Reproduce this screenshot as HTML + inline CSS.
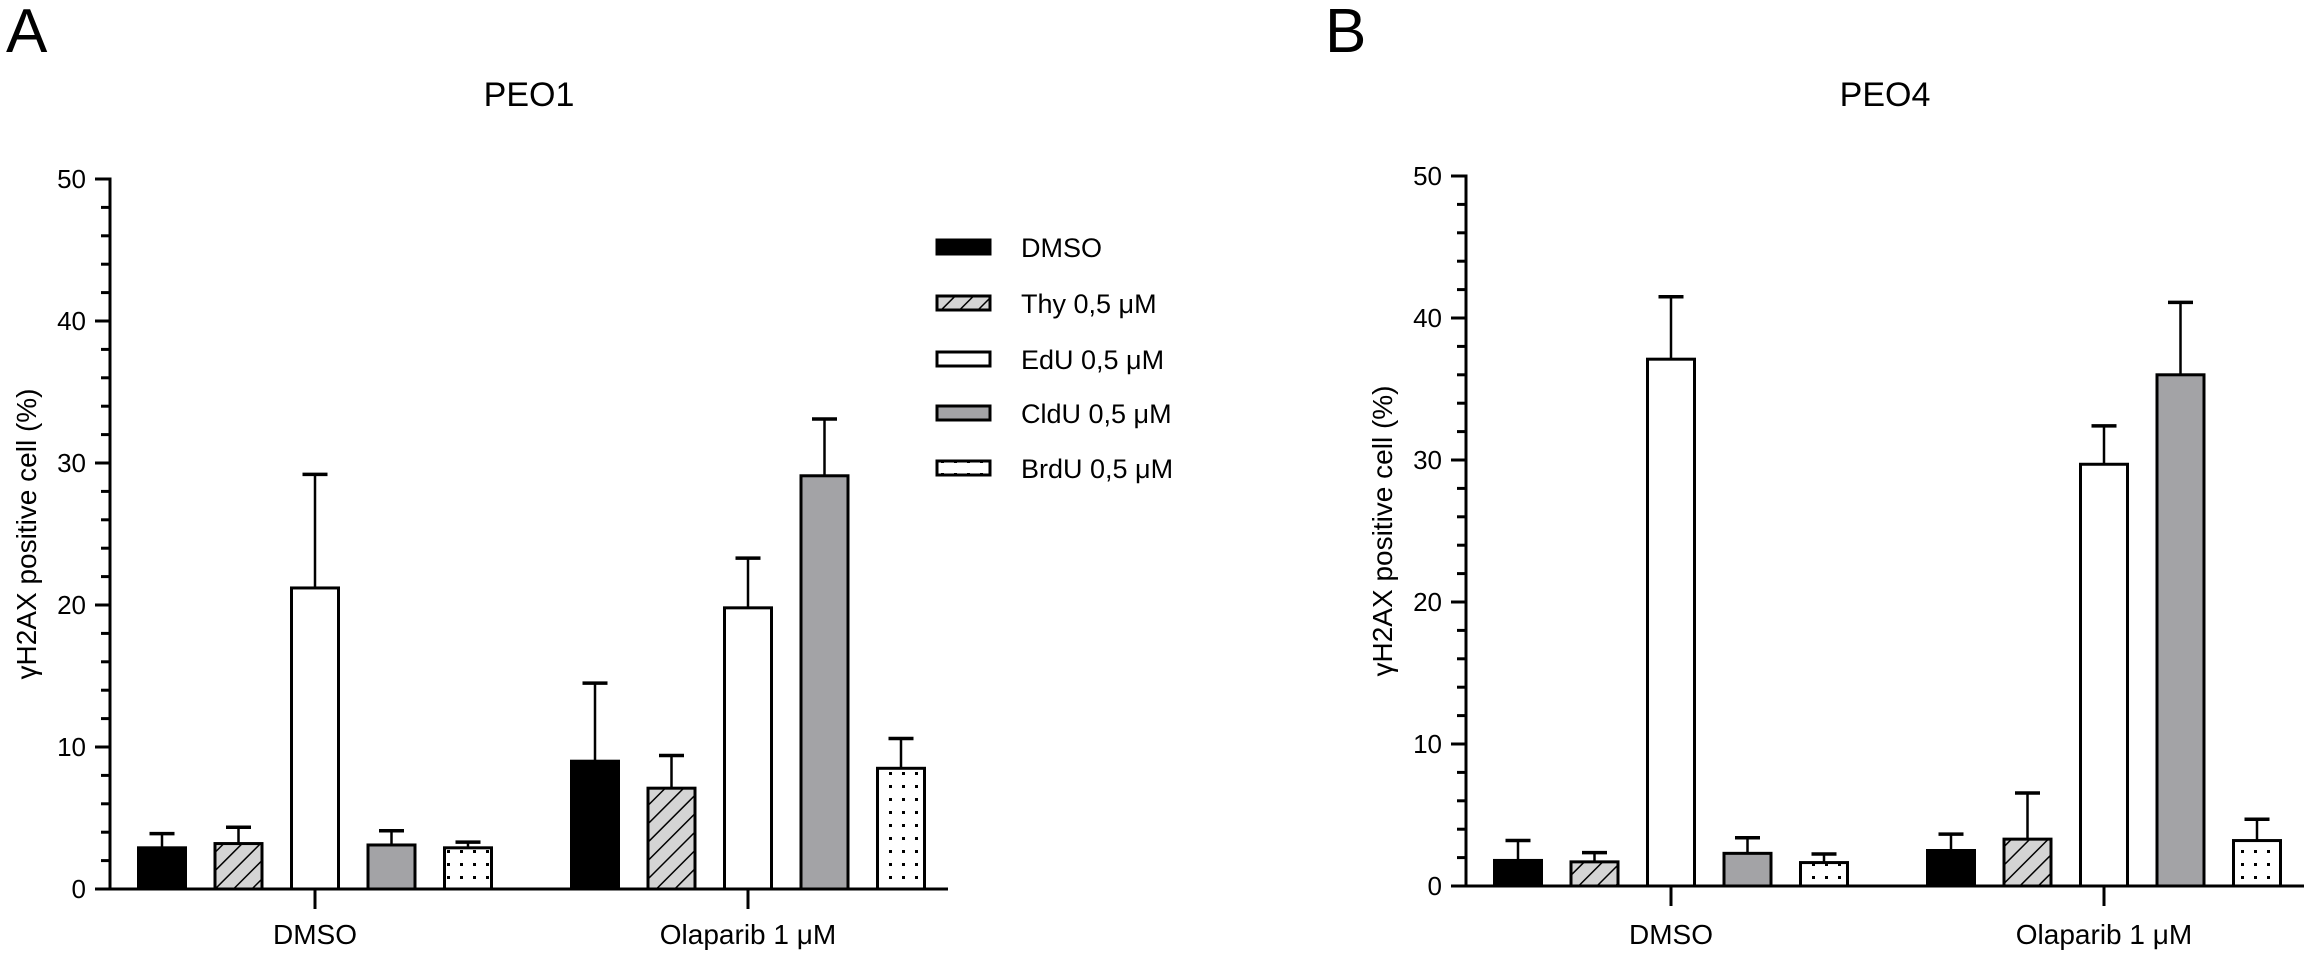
<!DOCTYPE html>
<html><head><meta charset="utf-8"><style>
html,body{margin:0;padding:0;background:#fff;}
svg{display:block;font-family:"Liberation Sans",Arial,sans-serif;}
</style></head><body>
<svg id="chart" width="2312" height="960" viewBox="0 0 2312 960">
<defs>
<pattern id="hatch" width="13" height="13" patternUnits="userSpaceOnUse" patternTransform="rotate(45)">
<rect width="13" height="13" fill="#d4d4d4"/><line x1="0" y1="0" x2="0" y2="13" stroke="#000" stroke-width="3"/>
</pattern>
<pattern id="dots" width="13" height="13" patternUnits="userSpaceOnUse">
<rect width="13" height="13" fill="#fff"/><rect x="5" y="5" width="3" height="3" fill="#000"/>
</pattern>
</defs>
</svg>
<script>
const categories = ["DMSO", "Olaparib 1 μM"];
const seriesNames = ["DMSO", "Thy 0,5 μM", "EdU 0,5 μM", "CldU 0,5 μM", "BrdU 0,5 μM"];
const yTicks = [0, 10, 20, 30, 40, 50];
// PEO1 values [series][category]
const peo1Values = [[2.9, 9.0], [3.2, 7.1], [21.2, 19.8], [3.1, 29.1], [2.9, 8.5]];
const peo1Errors = [[1.0, 5.5], [1.15, 2.3], [8.0, 3.5], [1.0, 4.0], [0.4, 2.1]];
// PEO4 values [series][category]
const peo4Values = [[1.8, 2.5], [1.7, 3.3], [37.1, 29.7], [2.3, 36.0], [1.65, 3.2]];
const peo4Errors = [[1.4, 1.15], [0.65, 3.25], [4.4, 2.7], [1.1, 5.1], [0.6, 1.5]];

const fills = ["#000", "url(#hatch)", "#fff", "#a3a3a6", "url(#dots)"];
const svg = document.getElementById('chart');
const NS = "http://www.w3.org/2000/svg";
function mk(tag, attrs, parent){const e=document.createElementNS(NS,tag);for(const k in attrs)e.setAttribute(k,attrs[k]);(parent||svg).appendChild(e);return e;}
function txt(x,y,s,size,anchor,parent){const t=mk('text',{x:x,y:y,'font-size':size,'text-anchor':anchor||'middle',fill:'#000'},parent);t.textContent=s;return t;}

function panel(letter, letterX, title, axisX, y0, endX, values, errors){
  const g = mk('g',{});
  
  
  const unit = 14.2;
  const yScale = v => y0 - v*unit;
  const groupStart = axisX + 27, pitch = 76.5, bw = 50, groupGap = 433;
  const xBar = (ci, si) => groupStart + ci*groupGap + si*pitch;
  const L = txt(letterX, 52, letter, 62, 'start', g);
  
  
  const T = txt((axisX+endX)/2, 106, title, 34, 'middle', g);
  
  
  const ax = mk('line',{x1:axisX,y1:yScale(50)-1.5,x2:axisX,y2:y0+1.5,stroke:'#000','stroke-width':3},g);
  
  
  for(let v=0; v<=50; v+=2){
    const major = v%10===0;
    mk('line',{x1:axisX-(major?15:9),y1:yScale(v),x2:axisX,y2:yScale(v),stroke:'#000','stroke-width':3},g);
  }
  yTicks.forEach(v=>{
    const t = txt(axisX-24, yScale(v)+9, String(v), 26, 'end', g);
    
    
  });
  const yt = txt(0,0,'γH2AX positive cell (%)',28,'middle',g);
  yt.setAttribute('transform','translate('+(axisX-74)+','+((yScale(50)+y0)/2)+') rotate(-90)');
  
  
  const xa = mk('line',{x1:axisX-1.5,y1:y0,x2:endX,y2:y0,stroke:'#000','stroke-width':3},g);
  
  
  categories.forEach((c,ci)=>{
    const cx = xBar(ci,2)+bw/2;
    mk('line',{x1:cx,y1:y0,x2:cx,y2:y0+20,stroke:'#000','stroke-width':3},g);
    const t = txt(cx, 944, c, 28, 'middle', g);
    
    
  });
  seriesNames.forEach((s,si)=>{
    categories.forEach((c,ci)=>{
      const v = values[si][ci], e = errors[si][ci];
      const x = xBar(ci,si), top = yScale(v);
      const cx = x + bw/2;
      const el = mk('line',{x1:cx,y1:top,x2:cx,y2:yScale(v+e),stroke:'#000','stroke-width':2.5},g);
      
      
      mk('line',{x1:cx-12.5,y1:yScale(v+e),x2:cx+12.5,y2:yScale(v+e),stroke:'#000','stroke-width':3.5},g);
      const r = mk('rect',{x:x+1.5,y:top,width:bw-3,height:y0-top,fill:fills[si],stroke:'#000','stroke-width':3},g);
      
      
    });
  });
}
panel('A', 6, 'PEO1', 110, 889, 948, peo1Values, peo1Errors);
panel('B', 1325, 'PEO4', 1466, 886, 2304, peo4Values, peo4Errors);

const lg = mk('g',{});


const legendY = [247, 303, 359, 413, 468];
seriesNames.forEach((s,i)=>{
  const e = mk('g',{},lg);
  
  
  mk('rect',{x:937,y:legendY[i]-7,width:53,height:14,fill:fills[i],stroke:'#000','stroke-width':3},e);
  txt(1021, legendY[i]+10, s, 27, 'start', e);
});
</script>
</body></html>
